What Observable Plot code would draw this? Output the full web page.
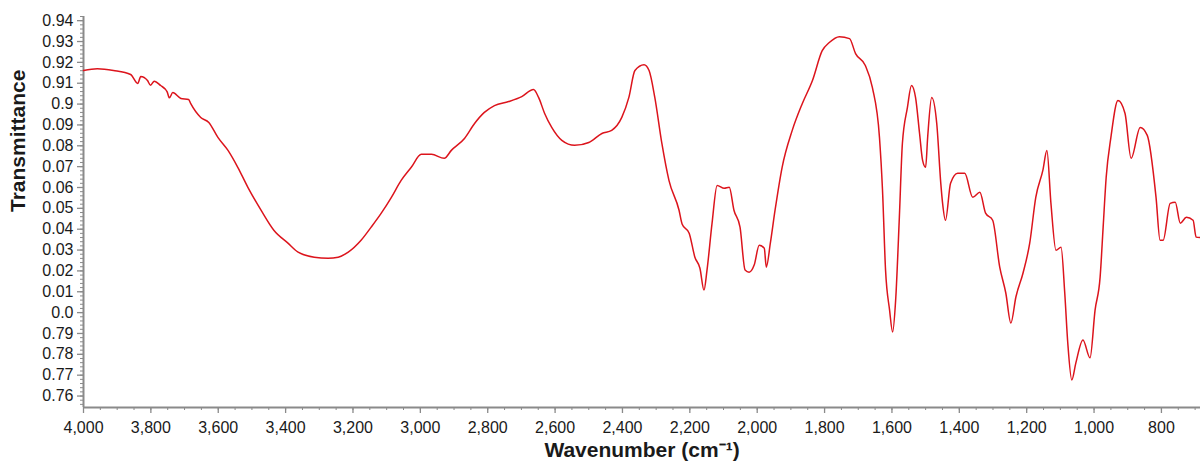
<!DOCTYPE html>
<html>
<head>
<meta charset="utf-8">
<script src="https://cdn.jsdelivr.net/npm/d3@7"></script>
<script src="https://cdn.jsdelivr.net/npm/@observablehq/plot@0.6"></script>
<style>
  html, body { margin: 0; padding: 0; background: #fff; }
  #chart { width: 1200px; height: 467px; overflow: hidden; }
</style>
</head>
<body>
<div id="chart"></div>
<script>
// Wavenumber (cm^-1)
const wavenumber = [
  4000, 3959, 3911, 3860, 3839, 3830, 3810, 3801, 3790, 3771, 3752, 3745, 3735, 3711, 3688,
  3682, 3652, 3628, 3601, 3571, 3542, 3512,
  3473, 3435, 3393, 3363, 3315, 3274, 3244, 3214, 3176, 3146, 3116, 3086, 3057, 3027, 2997,
  2967, 2929, 2908, 2869, 2839, 2810, 2780, 2738, 2699, 2664, 2649, 2631, 2610, 2580, 2542,
  2500, 2461, 2432, 2402, 2381, 2363, 2336, 2321, 2304, 2283, 2262, 2232, 2223, 2202, 2185,
  2170, 2158, 2149, 2134, 2119, 2098, 2083, 2069, 2051, 2036, 2024, 2009, 1994, 1979, 1973,
  1961, 1947, 1926, 1896, 1866, 1836, 1807, 1786, 1756, 1726, 1708, 1679, 1658, 1637, 1628,
  1619, 1607, 1598, 1589, 1578, 1569, 1554, 1542, 1530, 1518, 1509, 1500, 1494, 1482, 1467,
  1455, 1450, 1441, 1426, 1405, 1384, 1360, 1339, 1322, 1301, 1280, 1262, 1247, 1232, 1211,
  1191, 1173, 1152, 1140, 1128, 1113, 1098, 1087, 1078, 1066, 1054, 1033, 1012, 997, 982,
  973, 964, 950, 929, 908, 890, 863, 842, 816, 804, 795, 774, 759, 744, 726,
  706, 697, 685
];
// Transmittance (in the axis' own position units)
const transmittance = [
  0.9161, 0.9169, 0.9161, 0.9142, 0.9099, 0.9132, 0.9113, 0.9090, 0.9110, 0.9089, 0.9060, 0.9030, 0.9055, 0.9027, 0.9022,
  0.9003, 0.8936, 0.8912, 0.8840, 0.8778, 0.8697, 0.8601,
  0.8491, 0.8395, 0.8333, 0.8290, 0.8266, 0.8261, 0.8266, 0.8290, 0.8347, 0.8410, 0.8477, 0.8553, 0.8634, 0.8697, 0.8759,
  0.8759, 0.8740, 0.8778, 0.8835, 0.8907, 0.8960, 0.8993, 0.9012, 0.9036, 0.9070, 0.9032, 0.8955, 0.8888, 0.8826, 0.8802,
  0.8816, 0.8859, 0.8874, 0.8936, 0.9032, 0.9161, 0.9189, 0.9161, 0.9032, 0.8811, 0.8634, 0.8491, 0.8425, 0.8381, 0.8266,
  0.8213, 0.8108, 0.8204, 0.8429, 0.8610, 0.8596, 0.8601, 0.8491, 0.8410, 0.8204, 0.8194, 0.8228, 0.8323, 0.8309, 0.8218,
  0.8333, 0.8491, 0.8697, 0.8874, 0.9003, 0.9113, 0.9256, 0.9295, 0.9323, 0.9314, 0.9242, 0.9185, 0.9079, 0.8840, 0.8587,
  0.8204, 0.8012, 0.7907, 0.8060, 0.8457, 0.8811, 0.8984, 0.9089, 0.9032, 0.8859, 0.8730, 0.8697, 0.8840, 0.9032, 0.8907,
  0.8620, 0.8530, 0.8443, 0.8620, 0.8668, 0.8668, 0.8553, 0.8577, 0.8477, 0.8443, 0.8218, 0.8094, 0.7950, 0.8075, 0.8189,
  0.8333, 0.8553, 0.8682, 0.8778, 0.8524, 0.8299, 0.8314, 0.8094, 0.7854, 0.7677, 0.7759, 0.7869, 0.7783, 0.8012, 0.8170,
  0.8410, 0.8649, 0.8840, 0.9017, 0.8955, 0.8740, 0.8888, 0.8850, 0.8553, 0.8347, 0.8347, 0.8524, 0.8529, 0.8429, 0.8457,
  0.8443, 0.8362, 0.8360
];
const xTicks = [4000, 3800, 3600, 3400, 3200, 3000, 2800, 2600, 2400, 2200, 2000, 1800, 1600, 1400, 1200, 1000, 800];
const xTickLabels = ["4,000", "3,800", "3,600", "3,400", "3,200", "3,000", "2,800", "2,600", "2,400", "2,200", "2,000", "1,800", "1,600", "1,400", "1,200", "1,000", "800"];
const yTicks = [0.76, 0.77, 0.78, 0.79, 0.80, 0.81, 0.82, 0.83, 0.84, 0.85, 0.86, 0.87, 0.88, 0.89, 0.90, 0.91, 0.92, 0.93, 0.94];
const yTickLabels = ["0.76", "0.77", "0.78", "0.79", "0.0", "0.01", "0.02", "0.03", "0.04", "0.05", "0.06", "0.07", "0.08", "0.09", "0.9", "0.91", "0.92", "0.93", "0.94"];
const xTitle = "Wavenumber (cm\u207B\u00B9)";
const yTitle = "Transmittance";

const data = wavenumber.map((w, i) => ({w, t: transmittance[i]}));
const xMinor = d3.range(700, 4001, 50);
const yMinor = d3.range(0, 94).map(i => 0.756 + i * 0.002);
const axisColor = "#8a8a8a";
const xMin = 684, yMin = 0.7545;

const chart = Plot.plot({
  width: 1200,
  height: 467,
  marginLeft: 83,
  marginRight: 0,
  marginTop: 16,
  marginBottom: 60,
  style: {fontFamily: "'Liberation Sans', Arial, sans-serif", fontSize: "16px", color: "#1a1a1a", background: "#fff"},
  x: {domain: [4000, xMin]},
  y: {domain: [yMin, 0.942]},
  marks: [
    Plot.axisX(xMinor.filter(d => d >= xMin), {tickSize: 3, text: null, stroke: axisColor, label: null}),
    Plot.axisX(xTicks, {tickSize: 6, tickPadding: 8, stroke: axisColor, strokeWidth: 1.3,
      tickFormat: d => xTickLabels[xTicks.indexOf(d)], label: null, fill: "#1a1a1a"}),
    Plot.axisY(yMinor, {tickSize: 3, text: null, stroke: axisColor, label: null}),
    Plot.axisY(yTicks, {tickSize: 6, tickPadding: 4, stroke: axisColor, strokeWidth: 1.3,
      tickFormat: d => yTickLabels[Math.round((d - 0.76) * 100)], label: null, fill: "#1a1a1a"}),
    Plot.ruleX([4000], {stroke: axisColor, strokeWidth: 2}),
    Plot.ruleY([yMin], {stroke: axisColor, strokeWidth: 2}),
    Plot.line(data, {x: "w", y: "t", stroke: "#dc141c", strokeWidth: 1.5, curve: "monotone-x"}),
    Plot.text([xTitle], {frameAnchor: "bottom", dy: 49, text: d => d, fontWeight: "bold", fontSize: 21, fill: "#1a1a1a"}),
    Plot.text([yTitle], {frameAnchor: "left", dx: -65, rotate: -90, text: d => d, fontWeight: "bold", fontSize: 21, fill: "#1a1a1a"})
  ]
});
document.getElementById("chart").append(chart);
</script>
</body>
</html>
